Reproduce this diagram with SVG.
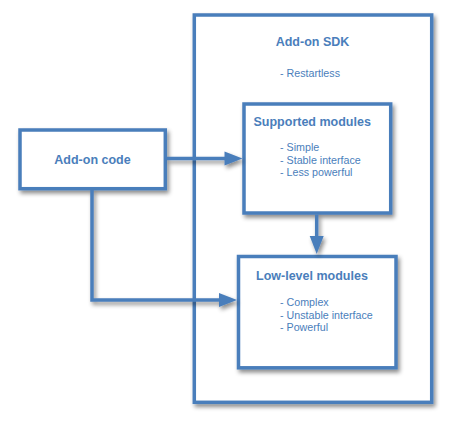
<svg xmlns="http://www.w3.org/2000/svg" width="450" height="424" viewBox="0 0 450 424">
  <defs>
    <filter id="sh" x="-20%" y="-20%" width="140%" height="140%">
      <feDropShadow dx="2" dy="3" stdDeviation="2" flood-color="#000" flood-opacity="0.45"/>
    </filter>
    <style>
      .box { fill: #fff; stroke: #4a7ebb; stroke-width: 3.5; filter: url(#sh); }
      .edge { fill: none; stroke: #4a7ebb; stroke-width: 3.5; }
      .head { fill: #4a7ebb; stroke: none; }
      .title { font-family: "Liberation Sans", Arial, sans-serif; font-size: 12.5px; font-weight: bold; fill: #4a7ebb; }
      .item { font-family: "Liberation Sans", Arial, sans-serif; font-size: 10.7px; fill: #4a7ebb; }
    </style>
  </defs>
  <rect width="450" height="424" fill="#fff"/>
  <g id="sdk">
    <rect class="box" x="194.3" y="15" width="237.4" height="387.3"/>
    <text class="title" x="312.5" y="46" text-anchor="middle">Add-on SDK</text>
    <text class="item" x="280" y="77">- Restartless</text>
  </g>
  <g id="addon-code">
    <rect class="box" x="20" y="130" width="145.3" height="58.7"/>
    <text class="title" x="92.5" y="164" text-anchor="middle">Add-on code</text>
  </g>
  <g id="supported">
    <rect class="box" x="244" y="104" width="146.7" height="109"/>
    <text class="title" x="253.5" y="126">Supported modules</text>
    <text class="item" x="280" y="151">- Simple</text>
    <text class="item" x="280" y="163.5">- Stable interface</text>
    <text class="item" x="280" y="176">- Less powerful</text>
  </g>
  <g id="lowlevel">
    <rect class="box" x="238.5" y="256.5" width="157.5" height="111.3"/>
    <text class="title" x="256" y="279.5">Low-level modules</text>
    <text class="item" x="280" y="306">- Complex</text>
    <text class="item" x="280" y="318.5">- Unstable interface</text>
    <text class="item" x="280" y="331">- Powerful</text>
  </g>
  <g id="connectors" filter="url(#sh)">
    <line class="edge" x1="167" y1="158.5" x2="226" y2="158.5"/>
    <polygon class="head" points="242.5,158.5 224.5,151.5 224.5,165.5"/>
    <polyline class="edge" points="92,190 92,300 221,300"/>
    <polygon class="head" points="237,300 219,293 219,307"/>
    <line class="edge" x1="316.7" y1="214.5" x2="316.7" y2="237"/>
    <polygon class="head" points="316.7,254 309.7,236 323.7,236"/>
  </g>
</svg>
